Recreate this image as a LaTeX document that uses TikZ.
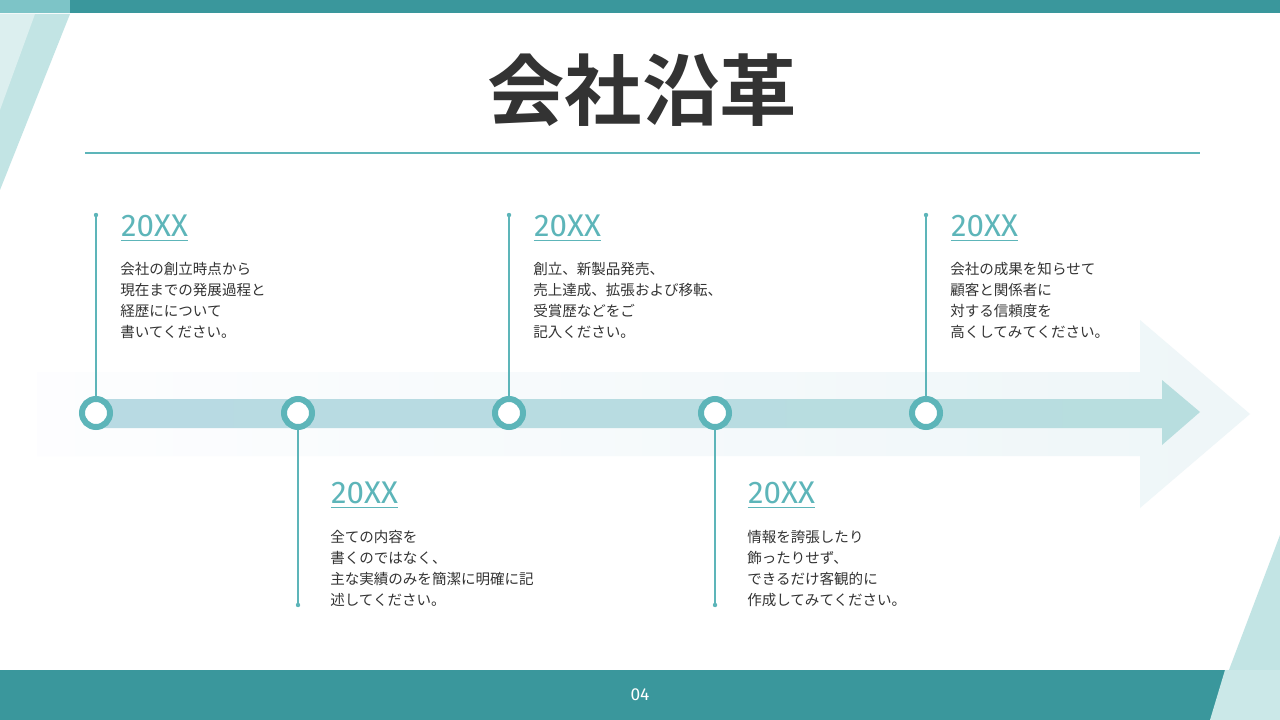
\documentclass[tikz,border=0pt]{standalone}
\usepackage{fontspec}
\setmainfont{Fira Sans}
\newfontfamily\jp{Noto Sans CJK JP}
\newfontfamily\jpb{Noto Sans CJK JP Bold}
\definecolor{teal1}{HTML}{3A979C}
\definecolor{teal2}{HTML}{5DB5B9}
\definecolor{lite}{HTML}{A8D8D8}
\definecolor{band}{HTML}{EEF6F8}
\definecolor{innerA}{HTML}{B8DAE3}
\definecolor{innerB}{HTML}{B8DEDF}
\definecolor{txt}{HTML}{333333}
\newcommand{\yrtext}{\tikz[baseline=0pt]{\node[inner sep=0pt,anchor=base west] (q) {20XX}; \draw[teal2,line width=1pt] ([yshift=-3pt]q.base west) -- ([yshift=-3pt]q.base east);}}
\begin{document}
\begin{tikzpicture}[x=0.75pt,y=-0.75pt,
 yr/.style={font=\fontsize{23.5}{22}\selectfont, text=teal2, anchor=west, inner sep=0pt},
 body/.style={font=\jp\fontsize{10.9}{15.8}\selectfont, text=txt, anchor=north west, align=left, inner sep=0pt},
 stem/.style={teal2, line width=1.2pt},
 ring/.style={circle, draw=teal2, fill=white, line width=4.5pt, minimum size=21pt, inner sep=0pt}]
\useasboundingbox (0,0) rectangle (1280,720);
\fill[white] (0,0) rectangle (1280,720);
% decorations
\fill[lite!70] (0,14) -- (70,14) -- (0,190) -- cycle;
\fill[lite!40] (0,14) -- (35,14) -- (0,110) -- cycle;
\fill[teal1] (0,0) rectangle (1280,13);
\fill[teal2!80] (0,0) rectangle (70,13);
\fill[lite!70] (1280,535) -- (1280,720) -- (1210,720) -- cycle;
\fill[teal1] (0,670) rectangle (1280,720);
\fill[lite!60] (1225,670) -- (1280,670) -- (1280,720) -- (1210,720) -- cycle;
\node[text=white, font=\fontsize{13}{13}\selectfont] (pg) at (640,695) {04};
% title
\node[font=\jpb\fontsize{58}{58}\selectfont, text=txt] (title) at (642,90) {会社沿革};
\draw[teal2, line width=1.5pt] (85,153) -- (1200,153);
% arrows
\shade[left color=band!90!blue!5, right color=band] (37,372) -- (1140,372) -- (1140,320) -- (1250,414) -- (1140,508) -- (1140,456) -- (37,456) -- cycle;
\shade[left color=innerA, right color=innerB] (95,399) -- (1162,399) -- (1162,380) -- (1200,412) -- (1162,445) -- (1162,428) -- (95,428) -- cycle;
% stems
\foreach \n/\x/\ya/\yb in {a/96/215/413, c/509/215/413, e/926/215/413, b/298/413/605, d/715/413/605}{
  \coordinate (s\n) at (\x,\ya); \coordinate (t\n) at (\x,\yb);
  \draw[stem] (s\n) -- (t\n);
}
\foreach \n in {a,c,e}{\fill[teal2] (s\n) circle (2.2);}
\foreach \n in {b,d}{\fill[teal2] (t\n) circle (2.2);}
\foreach \n/\x in {a/96,b/298,c/509,d/715,e/926}{\node[ring] (r\n) at (\x,413) {};}
% labels
\node[yr] (ya) at (120,228) {\yrtext};
\node[body] (ba) at (120,262) {会社の創立時点から\\現在までの発展過程と\\経歴にについて\\書いてください。};
\node[yr] (yc) at (533,228) {\yrtext};
\node[body] (bc) at (533,262) {創立、新製品発売、\\売上達成、拡張および移転、\\受賞歴などをご\\記入ください。};
\node[yr] (ye) at (950,228) {\yrtext};
\node[body] (be) at (950,262) {会社の成果を知らせて\\顧客と関係者に\\対する信頼度を\\高くしてみてください。};
\node[yr] (yb) at (330,495) {\yrtext};
\node[body] (bb) at (330,530) {全ての内容を\\書くのではなく、\\主な実績のみを簡潔に明確に記\\述してください。};
\node[yr] (yd) at (747,495) {\yrtext};
\node[body] (bd) at (747,530) {情報を誇張したり\\飾ったりせず、\\できるだけ客観的に\\作成してみてください。};
\end{tikzpicture}
\end{document}
